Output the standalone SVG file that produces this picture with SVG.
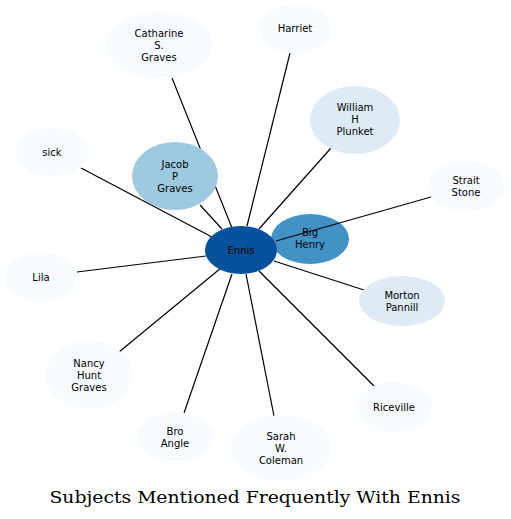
<svg xmlns="http://www.w3.org/2000/svg" width="511" height="519" viewBox="0 0 511 519">
<style>
text{font-family:"DejaVu Sans",sans-serif;font-size:10px;text-anchor:middle;fill:#000}
.c0{fill:#f7fbff}.c1{fill:#deebf7}.c2{fill:#9ecae1}.c3{fill:#4292c6}.c4{fill:#08519c}
#edges line{stroke:#000;stroke-width:1.2}
.title{font-family:"DejaVu Serif",serif;font-size:17px}
</style>
<rect width="511" height="519" fill="#fff"/>
<g id="n-bighenry"><ellipse class="c3" cx="310" cy="239" rx="39" ry="25"/><text x="310" y="236">Big</text><text x="310" y="248">Henry</text></g>
<g id="edges">
<line x1="172" y1="78" x2="232" y2="228"/>
<line x1="290" y1="53" x2="247" y2="226"/>
<line x1="331" y1="148" x2="259" y2="229"/>
<line x1="431" y1="197" x2="276" y2="241"/>
<line x1="81" y1="168" x2="212" y2="237"/>
<line x1="200" y1="205" x2="222" y2="229"/>
<line x1="77" y1="272" x2="206" y2="256"/>
<line x1="364" y1="290" x2="274" y2="261"/>
<line x1="119" y1="352" x2="221" y2="268"/>
<line x1="184" y1="413" x2="232" y2="274"/>
<line x1="274" y1="416" x2="246" y2="274"/>
<line x1="374" y1="386" x2="259" y2="271"/>
</g>
<g id="n-ennis"><ellipse class="c4" cx="241" cy="250" rx="36" ry="24"/><text x="241" y="254">Ennis</text></g>
<g id="n-jacob"><ellipse class="c2" cx="175" cy="176" rx="43" ry="34"/><text x="175" y="168">Jacob</text><text x="175" y="180">P</text><text x="175" y="192">Graves</text></g>
<g id="n-william"><ellipse class="c1" cx="355" cy="120" rx="45" ry="34"/><text x="355" y="111">William</text><text x="355" y="123">H</text><text x="355" y="135">Plunket</text></g>
<g id="n-morton"><ellipse class="c1" cx="402" cy="301" rx="43" ry="25"/><text x="402" y="299">Morton</text><text x="402" y="311">Pannill</text></g>
<g id="n-catharine"><ellipse class="c0" cx="159" cy="45" rx="53" ry="33"/><text x="159" y="37">Catharine</text><text x="159" y="49">S.</text><text x="159" y="61">Graves</text></g>
<g id="n-harriet"><ellipse class="c0" cx="295" cy="29" rx="36" ry="24"/><text x="295" y="32">Harriet</text></g>
<g id="n-sick"><ellipse class="c0" cx="52" cy="152" rx="36" ry="24"/><text x="52" y="156">sick</text></g>
<g id="n-strait"><ellipse class="c0" cx="466" cy="186" rx="38" ry="25"/><text x="466" y="184">Strait</text><text x="466" y="196">Stone</text></g>
<g id="n-lila"><ellipse class="c0" cx="41" cy="277" rx="36" ry="24"/><text x="41" y="281">Lila</text></g>
<g id="n-nancy"><ellipse class="c0" cx="89" cy="375" rx="43" ry="34"/><text x="89" y="367">Nancy</text><text x="89" y="379">Hunt</text><text x="89" y="391">Graves</text></g>
<g id="n-bro"><ellipse class="c0" cx="175" cy="437" rx="38" ry="25"/><text x="175" y="435">Bro</text><text x="175" y="447">Angle</text></g>
<g id="n-sarah"><ellipse class="c0" cx="281" cy="448" rx="50" ry="33"/><text x="281" y="440">Sarah</text><text x="281" y="452">W.</text><text x="281" y="464">Coleman</text></g>
<g id="n-riceville"><ellipse class="c0" cx="394" cy="407" rx="38" ry="25"/><text x="394" y="411">Riceville</text></g>
<text class="title" x="255" y="503" textLength="411" lengthAdjust="spacingAndGlyphs">Subjects Mentioned Frequently With Ennis</text>
</svg>
